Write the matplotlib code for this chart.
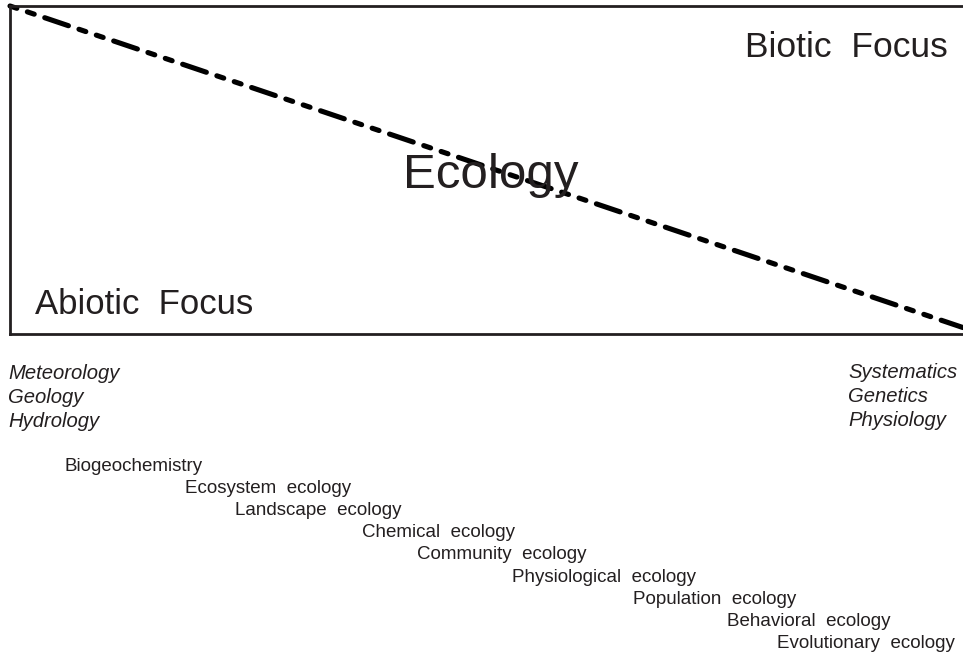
import matplotlib.pyplot as plt

plt.rcParams['font.family'] = ['Liberation Sans', 'DejaVu Sans']
plt.rcParams['lines.scale_dashes'] = False

W, H = 963, 656
ink = '#231f20'

# gradient from abiotic (0) to biotic (1)
gradient_x = [0, 1]
gradient_y = [1, 0]

abiotic_fields = ['Meteorology', 'Geology', 'Hydrology']
biotic_fields = ['Systematics', 'Genetics', 'Physiology']

subfields = ['Biogeochemistry', 'Ecosystem  ecology', 'Landscape  ecology',
             'Chemical  ecology', 'Community  ecology', 'Physiological  ecology',
             'Population  ecology', 'Behavioral  ecology', 'Evolutionary  ecology']
# where each subfield starts along the abiotic -> biotic axis (0..1 of page width)
subfield_pos = [0.067, 0.192, 0.244, 0.376, 0.433, 0.532, 0.657, 0.755, 0.807]

fig = plt.figure(figsize=(W / 100, H / 100), dpi=100)


def px(x, y):
    return x / W, 1 - y / H


# the box
ax = fig.add_axes([10 / W, (H - 334) / H, (W - 10) / W, 328 / H])
ax.set_xlim(0, 1)
ax.set_ylim(-0.02, 1)
ax.set_xticks([])
ax.set_yticks([])
for s in ['left', 'top', 'bottom']:
    ax.spines[s].set_linewidth(2)
    ax.spines[s].set_color(ink)
ax.spines['right'].set_visible(False)

ax.plot(gradient_x, gradient_y, color='black', lw=3.7,
        dashes=(5.2, 8.0, 5.2, 8.0, 18.0, 8.0),
        dash_capstyle='round', solid_capstyle='round', clip_on=False)

fig.text(*px(745, 57), 'Biotic  Focus', fontsize=25.5, color=ink, va='baseline')
fig.text(*px(35, 314), 'Abiotic  Focus', fontsize=25, color=ink, va='baseline')
fig.text(*px(403, 188), 'Ecology', fontsize=35.5, color=ink, va='baseline')

for i, name in enumerate(abiotic_fields):
    fig.text(*px(8, 379 + i * 24), name, fontsize=14.6, style='italic',
             color=ink, va='baseline')
for i, name in enumerate(biotic_fields):
    fig.text(*px(848, 378 + i * 24), name, fontsize=14.6, style='italic',
             color=ink, va='baseline')

for i, (name, p) in enumerate(zip(subfields, subfield_pos)):
    fig.text(p, 1 - (471 + i * 22.1) / H, name, fontsize=13.5,
             color=ink, va='baseline')

fig.savefig('out.png', dpi=100)
